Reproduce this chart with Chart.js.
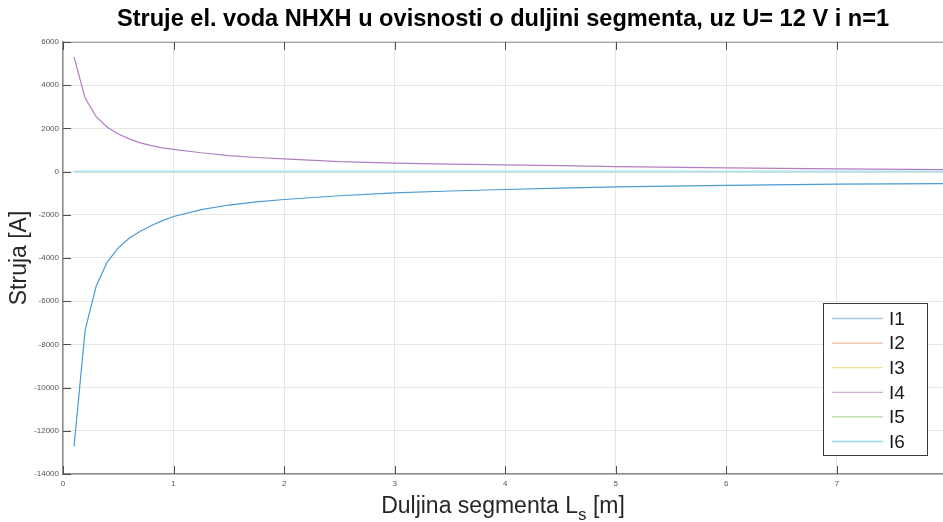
<!DOCTYPE html>
<html>
<head>
<meta charset="utf-8">
<title>Struje el. voda NHXH</title>
<script src="https://cdn.jsdelivr.net/npm/chart.js@4"></script>
<style>
  html, body { margin: 0; padding: 0; background: #fff; }
  #wrap { width: 943px; height: 522px; }
</style>
</head>
<body>
<div id="wrap"><canvas id="chart"></canvas></div>
<script>
// Segment lengths L_s [m] (sample points)
const lengths = [0.1, 0.2, 0.3, 0.4, 0.5, 0.6, 0.7, 0.8, 0.9, 1.0,
  1.25, 1.5, 1.75, 2.0, 2.5, 3.0, 3.5, 4.0, 4.5, 5.0, 6.0, 7.0, 7.96];

// Currents [A]
const i1 = [-12730, -7340, -5310, -4190, -3530, -3080, -2760, -2500, -2270, -2080,
  -1760, -1550, -1400, -1295, -1120, -985, -900, -830, -770, -710, -640, -585, -555];
const i2 = [0, 0, 0, 0, 0, 0, 0, 0, 0, 0, 0, 0, 0, 0, 0, 0, 0, 0, 0, 0, 0, 0, 0];
const i3 = [0, 0, 0, 0, 0, 0, 0, 0, 0, 0, 0, 0, 0, 0, 0, 0, 0, 0, 0, 0, 0, 0, 0];
const i4 = [5310, 3400, 2540, 2050, 1740, 1510, 1325, 1200, 1095, 1030,
  870, 740, 650, 585, 455, 390, 345, 310, 270, 230, 170, 125, 90];
const i5 = [0, 0, 0, 0, 0, 0, 0, 0, 0, 0, 0, 0, 0, 0, 0, 0, 0, 0, 0, 0, 0, 0, 0];
const i6 = [0, 0, 0, 0, 0, 0, 0, 0, 0, 0, 0, 0, 0, 0, 0, 0, 0, 0, 0, 0, 0, 0, 0];

const seriesNames = ['I1', 'I2', 'I3', 'I4', 'I5', 'I6'];
const seriesValues = [i1, i2, i3, i4, i5, i6];
const lineColors = ['#4b9bd4', '#eeb49a', '#f4d98f', '#b17fc1', '#b5d592', '#b3e2f5'];
const legendColors = ['#9cc8ea', '#f0b8a0', '#f6dc96', '#d3aee0', '#b9d898', '#95d6f3'];

const yTicks = [6000, 4000, 2000, 0, -2000, -4000, -6000, -8000, -10000, -12000, -14000];
const xTicks = [0, 1, 2, 3, 4, 5, 6, 7];

const FONT = "'Liberation Sans', Arial, sans-serif";

function toPoints(vals) {
  return lengths.map((x, k) => ({ x, y: vals[k] }));
}

// MATLAB-like box decorations: inward ticks, x label with subscript, legend inside the axes
const matlabDecor = {
  id: 'matlabDecor',
  afterDraw(chart) {
    const { ctx, chartArea: a, scales } = chart;
    ctx.save();

    // top box line
    ctx.strokeStyle = '#9a9a9a';
    ctx.lineWidth = 1;
    ctx.beginPath();
    ctx.moveTo(a.left, a.top + 0.5);
    ctx.lineTo(a.right, a.top + 0.5);
    ctx.stroke();

    // inward ticks
    ctx.strokeStyle = '#4d4d4d';
    ctx.beginPath();
    yTicks.forEach(v => {
      const y = Math.round(scales.y.getPixelForValue(v)) + 0.5;
      ctx.moveTo(a.left, y);
      ctx.lineTo(a.left + 8, y);
    });
    xTicks.forEach(v => {
      const x = Math.round(scales.x.getPixelForValue(v)) + 0.5;
      ctx.moveTo(x, a.bottom);
      ctx.lineTo(x, a.bottom - 8);
      ctx.moveTo(x, a.top);
      ctx.lineTo(x, a.top + 8);
    });
    ctx.stroke();

    // x-axis title with subscript
    const main = 'Duljina segmenta L';
    const sub = 's';
    const tail = ' [m]';
    ctx.fillStyle = '#262626';
    ctx.textBaseline = 'alphabetic';
    ctx.font = '23px ' + FONT;
    const w1 = ctx.measureText(main).width;
    const w3 = ctx.measureText(tail).width;
    ctx.font = '17px ' + FONT;
    const w2 = ctx.measureText(sub).width;
    const total = w1 + w2 + w3;
    let x0 = (a.left + a.right) / 2 - total / 2;
    const base = 513;
    ctx.font = '23px ' + FONT;
    ctx.textAlign = 'left';
    ctx.fillText(main, x0, base);
    ctx.font = '17px ' + FONT;
    ctx.fillText(sub, x0 + w1, base + 7);
    ctx.font = '23px ' + FONT;
    ctx.fillText(tail, x0 + w1 + w2, base);

    // legend box
    const lx = 823, ly = 303, lw = 104, lh = 152;
    ctx.fillStyle = '#ffffff';
    ctx.fillRect(lx, ly, lw, lh);
    ctx.strokeStyle = '#3a3a3a';
    ctx.lineWidth = 1;
    ctx.strokeRect(lx + 0.5, ly + 0.5, lw, lh);
    ctx.font = '19px ' + FONT;
    ctx.textBaseline = 'middle';
    chart.data.datasets.forEach((ds, k) => {
      const yy = ly + 15.5 + k * 24.6;
      ctx.strokeStyle = legendColors[k];
      ctx.lineWidth = 1.3;
      ctx.beginPath();
      ctx.moveTo(lx + 9, yy);
      ctx.lineTo(lx + 60, yy);
      ctx.stroke();
      ctx.fillStyle = '#1a1a1a';
      ctx.fillText(ds.label, lx + 66, yy + 1);
    });

    ctx.restore();
  }
};

// I6 is plotted last in the original, so it sits on top of the other zero lines
const datasets = seriesNames.map((name, k) => ({
  label: name,
  data: toPoints(seriesValues[k]),
  borderColor: lineColors[k],
  backgroundColor: lineColors[k],
  borderWidth: name === 'I6' ? 2 : 1.2,
  pointRadius: 0,
  tension: 0,
  fill: false,
  order: seriesNames.length - k
}));

new Chart(document.getElementById('chart'), {
  type: 'line',
  data: { datasets },
  options: {
    responsive: true,
    maintainAspectRatio: false,
    animation: false,
    layout: { padding: { left: 0, right: 0, top: 0, bottom: 0 } },
    plugins: {
      legend: { display: false },
      tooltip: { enabled: false },
      title: {
        display: true,
        text: 'Struje el. voda NHXH u ovisnosti o duljini segmenta, uz U= 12 V i n=1',
        color: '#000',
        font: { family: FONT, size: 23.6, weight: 'bold' },
        padding: { top: 5, bottom: 8.6 },
        fullSize: false
      }
    },
    scales: {
      x: {
        type: 'linear',
        min: 0,
        max: 7.96,
        afterBuildTicks: (s) => { s.ticks = xTicks.map(v => ({ value: v })); },
        afterFit: (s) => { s.height = 48; },
        ticks: {
          color: '#555',
          font: { family: FONT, size: 8 },
          padding: 5,
          maxRotation: 0
        },
        grid: { color: '#e6e6e6', lineWidth: 1, drawTicks: false },
        border: { color: '#8c8c8c', width: 1.5 },
        title: { display: false }
      },
      y: {
        type: 'linear',
        min: -14000,
        max: 6000,
        afterBuildTicks: (s) => { s.ticks = yTicks.map(v => ({ value: v })); },
        afterFit: (s) => { s.width = 63; },
        ticks: {
          color: '#555',
          font: { family: FONT, size: 8 },
          padding: 4,
          callback: (v) => String(v)
        },
        grid: { color: '#e6e6e6', lineWidth: 1, drawTicks: false },
        border: { color: '#8c8c8c', width: 1.5 },
        title: {
          display: true,
          text: 'Struja [A]',
          color: '#262626',
          font: { family: FONT, size: 23 },
          padding: { top: 6, bottom: 0 }
        }
      }
    }
  },
  plugins: [matlabDecor]
});
</script>
</body>
</html>
